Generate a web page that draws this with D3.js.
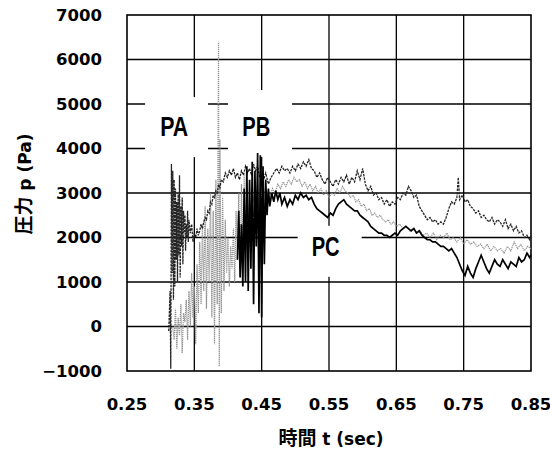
<!DOCTYPE html>
<html>
<head>
<meta charset="utf-8">
<script src="https://cdn.jsdelivr.net/npm/d3@7"></script>
<style>
  body { margin: 0; background: #fff; }
  .tick-label { font-family: "DejaVu Sans", sans-serif; font-weight: bold; font-size: 16.5px; fill: #000; }
  .tag { font-family: "Liberation Sans", sans-serif; font-weight: bold; font-size: 27px; fill: #000; }
</style>
</head>
<body>
<div class="diagram"></div>
<script>
var width = 404, height = 356, margin = {top: 15, right: 19, bottom: 82, left: 127};

// tick values
var xTicks = [0.25, 0.35, 0.45, 0.55, 0.65, 0.75, 0.85];
var yTicks = [-1000, 0, 1000, 2000, 3000, 4000, 5000, 6000, 7000];

// series names, where each name sits (t, p) and the blank box round it (t, p)
var seriesNames = ["PA", "PB", "PC"];
var namePos = [[0.320, 4500], [0.442, 4500], [0.545, 1800]];
var boxPos = [[0.3236, 4480], [0.4476, 4560], [0.551, 1690]];

// PA [t (sec), p (Pa)]
var paData = [
  [0.312,-100],[0.314,800],[0.315,-950],[0.316,3650],[0.317,1200],[0.318,3500],[0.319,600],[0.320,3300],
  [0.321,900],[0.322,3100],[0.323,1500],[0.324,2800],[0.325,1000],[0.326,3000],[0.327,1600],[0.328,3400],
  [0.329,1100],[0.330,2700],[0.331,1800],[0.332,2900],[0.333,1400],[0.334,2600],[0.335,2100],[0.336,2500],
  [0.337,1700],[0.338,2300],[0.339,2000],[0.340,2600],[0.341,1900],[0.342,2400],[0.344,2100],[0.346,2300],
  [0.348,1900],[0.350,2100],[0.352,2000],[0.354,2200],[0.356,2050],[0.358,2150],[0.360,2300],[0.362,2200],
  [0.364,2350],[0.366,2450],[0.368,2400],[0.370,2600],[0.372,2550],[0.374,2800],[0.376,2750],[0.378,2950],
  [0.380,2900],[0.382,3050],[0.384,3000],[0.386,3200],[0.388,3100],[0.390,3300],[0.393,3250],[0.396,3450],
  [0.399,3350],[0.402,3500],[0.405,3400],[0.408,3550],[0.411,3350],[0.414,3450],[0.417,3300],[0.420,3500],
  [0.423,3400],[0.426,3600],[0.429,3450],[0.432,3550],[0.435,3400],[0.438,3650],[0.441,3500],[0.444,3600],
  [0.447,3350],[0.450,3550],[0.453,3300],[0.456,3450],[0.460,3200],[0.464,3350],[0.468,3450],[0.472,3550],
  [0.476,3450],[0.480,3600],[0.484,3500],[0.488,3550],[0.492,3450],[0.496,3600],[0.500,3500],[0.504,3650],
  [0.508,3550],[0.512,3700],[0.516,3600],[0.520,3750],[0.524,3550],[0.528,3500],[0.532,3350],[0.536,3450],
  [0.540,3300],[0.544,3200],[0.548,3350],[0.552,3250],[0.556,3150],[0.560,3300],[0.564,3200],[0.568,3350],
  [0.572,3250],[0.576,3400],[0.580,3200],[0.584,3350],[0.588,3250],[0.592,3500],[0.596,3300],[0.600,3550],
  [0.604,3200],[0.608,3050],[0.612,3150],[0.616,2950],[0.620,3000],[0.624,2850],[0.628,2900],[0.632,2750],
  [0.636,2850],[0.640,2700],[0.644,2800],[0.648,2750],[0.652,2900],[0.656,2850],[0.660,3000],[0.664,2950],
  [0.668,3150],[0.672,3050],[0.676,2900],[0.680,2950],[0.684,2700],[0.688,2600],[0.692,2500],[0.696,2400],
  [0.700,2450],[0.704,2350],[0.708,2400],[0.712,2300],[0.716,2350],[0.720,2300],[0.724,2450],[0.728,2650],
  [0.732,2800],[0.736,2750],[0.740,2900],[0.742,3350],[0.744,2850],[0.748,2950],[0.752,2800],[0.756,2850],
  [0.760,2700],[0.764,2650],[0.768,2550],[0.772,2600],[0.776,2450],[0.780,2500],[0.784,2400],[0.788,2350],
  [0.792,2450],[0.796,2300],[0.800,2400],[0.804,2350],[0.808,2250],[0.812,2400],[0.816,2200],[0.820,2300],
  [0.824,2150],[0.828,2250],[0.832,2100],[0.836,2150],[0.840,2000],[0.844,2050],[0.848,1950],[0.850,2000]
];

// PB [t (sec), p (Pa)]
var pbData = [
  [0.318,0],[0.320,-300],[0.322,400],[0.324,-500],[0.326,200],[0.328,-200],[0.330,500],[0.332,-600],
  [0.334,300],[0.336,100],[0.338,600],[0.340,-300],[0.342,800],[0.344,0],[0.346,1200],[0.348,200],
  [0.350,900],[0.352,-400],[0.354,1400],[0.356,300],[0.358,1900],[0.360,500],[0.362,2300],[0.364,800],
  [0.366,2700],[0.368,400],[0.370,2200],[0.372,1000],[0.374,3000],[0.376,200],[0.378,2600],[0.380,-400],
  [0.382,3300],[0.384,500],[0.386,6400],[0.387,-900],[0.388,4200],[0.390,300],[0.392,2900],[0.394,800],
  [0.396,2400],[0.398,1200],[0.400,2000],[0.402,900],[0.404,1800],[0.406,1300],[0.408,2200],[0.410,1000],
  [0.412,2600],[0.414,1500],[0.416,3000],[0.418,1100],[0.420,3200],[0.422,1600],[0.424,3400],[0.426,1200],
  [0.428,3100],[0.430,2000],[0.432,3300],[0.434,2300],[0.436,3000],[0.438,2800],[0.440,3300],[0.442,2500],
  [0.444,3100],[0.446,2700],[0.448,3200],[0.450,2900],[0.453,3100],[0.456,2800],[0.459,3000],[0.462,2900],
  [0.466,3100],[0.470,3000],[0.474,3200],[0.478,3100],[0.482,3250],[0.486,3150],[0.490,3300],[0.494,3200],
  [0.498,3350],[0.502,3250],[0.506,3300],[0.510,3150],[0.514,3250],[0.518,3100],[0.522,3200],[0.526,3050],
  [0.530,3150],[0.534,3000],[0.538,3100],[0.542,2950],[0.546,3050],[0.550,2900],[0.554,3000],[0.558,2950],
  [0.562,3100],[0.566,3000],[0.570,3150],[0.574,3050],[0.578,3000],[0.582,2900],[0.586,2950],[0.590,2800],
  [0.594,2850],[0.598,2700],[0.602,2750],[0.606,2600],[0.610,2650],[0.614,2500],[0.618,2550],[0.622,2450],
  [0.626,2500],[0.630,2400],[0.634,2350],[0.638,2400],[0.642,2300],[0.646,2350],[0.650,2250],[0.655,2300],
  [0.660,2200],[0.665,2250],[0.670,2150],[0.675,2200],[0.680,2100],[0.685,2150],[0.690,2050],[0.695,2100],
  [0.700,2000],[0.705,2100],[0.710,1950],[0.715,2050],[0.720,2000],[0.725,2100],[0.730,1950],[0.735,2000],
  [0.740,1900],[0.745,2000],[0.750,1850],[0.755,1950],[0.760,1850],[0.765,1900],[0.770,1800],[0.775,1850],
  [0.780,1750],[0.785,1850],[0.790,1700],[0.795,1800],[0.800,1700],[0.805,1750],[0.810,1650],[0.815,1800],
  [0.820,1700],[0.825,1900],[0.830,1750],[0.835,1850],[0.840,1700],[0.845,1800],[0.850,1750]
];

// PC [t (sec), p (Pa)]
var pcData = [
  [0.414,1500],[0.416,2600],[0.418,1100],[0.420,2300],[0.422,900],[0.424,3100],[0.426,1000],[0.428,3600],
  [0.430,800],[0.432,3300],[0.434,1300],[0.436,3700],[0.438,500],[0.440,3500],[0.442,1800],[0.444,3900],
  [0.446,300],[0.448,3850],[0.450,200],[0.452,3600],[0.454,1400],[0.456,3300],[0.458,2500],[0.460,3100],
  [0.462,2700],[0.465,3000],[0.468,2800],[0.471,3050],[0.474,2850],[0.477,3000],[0.480,2750],[0.484,2900],
  [0.488,2700],[0.492,2850],[0.496,2750],[0.500,2950],[0.504,2850],[0.508,3000],[0.512,2900],[0.516,2950],
  [0.520,2850],[0.524,2900],[0.528,2750],[0.532,2650],[0.536,2600],[0.540,2550],[0.544,2500],[0.548,2450],
  [0.552,2550],[0.556,2500],[0.560,2650],[0.564,2750],[0.568,2800],[0.572,2850],[0.576,2750],[0.580,2700],
  [0.584,2650],[0.588,2600],[0.592,2600],[0.596,2500],[0.600,2450],[0.604,2400],[0.608,2350],[0.612,2250],
  [0.616,2200],[0.620,2150],[0.624,2100],[0.628,2100],[0.632,2050],[0.636,2050],[0.640,2000],[0.644,2050],
  [0.648,2100],[0.652,2050],[0.656,2150],[0.660,2200],[0.664,2250],[0.668,2200],[0.672,2150],[0.676,2200],
  [0.680,2100],[0.684,2150],[0.688,2050],[0.692,2000],[0.696,1950],[0.700,1950],[0.704,1900],[0.708,1900],
  [0.712,1850],[0.716,1800],[0.720,1800],[0.724,1750],[0.728,1700],[0.732,1750],[0.736,1650],[0.740,1550],
  [0.744,1400],[0.748,1250],[0.752,1150],[0.756,1350],[0.760,1200],[0.764,1100],[0.768,1300],[0.772,1450],
  [0.776,1600],[0.780,1450],[0.784,1300],[0.788,1200],[0.792,1350],[0.796,1500],[0.800,1400],[0.804,1350],
  [0.808,1500],[0.812,1400],[0.816,1300],[0.820,1450],[0.824,1400],[0.828,1350],[0.832,1550],[0.836,1450],
  [0.840,1500],[0.844,1650],[0.848,1550],[0.850,1600]
];

var svg = d3.select('.diagram')
  .append('svg')
  .attr('width', width + margin.left + margin.right)
  .attr('height', height + margin.top + margin.bottom)
  .append('g')
  .attr('transform', 'translate(' + margin.left + ',' + margin.top + ')');

var x = d3.scaleLinear().domain([0.25, 0.85]).range([0, width]),
    y = d3.scaleLinear().domain([-1000, 7000]).range([height, 0]);

// grid
svg.append('g').selectAll('line')
  .data(xTicks.slice(1, -1)).enter().append('line')
  .attr('x1', function(d) { return x(d); }).attr('x2', function(d) { return x(d); })
  .attr('y1', 0).attr('y2', height)
  .attr('stroke', '#000').attr('stroke-width', 1.3);

svg.append('g').selectAll('line')
  .data(yTicks.slice(1, -1)).enter().append('line')
  .attr('x1', 0).attr('x2', width)
  .attr('y1', function(d) { return y(d); }).attr('y2', function(d) { return y(d); })
  .attr('stroke', '#000').attr('stroke-width', 1.3);

// white boxes behind the series names
var boxW = [63, 64, 64], boxH = [60, 67, 51];
svg.append('g').selectAll('rect')
  .data(boxPos).enter().append('rect')
  .attr('x', function(d, i) { return x(d[0]) - boxW[i] / 2; })
  .attr('y', function(d, i) { return y(d[1]) - boxH[i] / 2; })
  .attr('width', function(d, i) { return boxW[i]; })
  .attr('height', function(d, i) { return boxH[i]; })
  .attr('fill', '#fff');

// frame
svg.append('rect')
  .attr('width', width).attr('height', height)
  .attr('fill', 'none').attr('stroke', '#000').attr('stroke-width', 1.6);

var line = d3.line()
  .x(function(d) { return x(d[0]); })
  .y(function(d) { return y(d[1]); });

svg.append('path').datum(pbData)
  .attr('d', line).attr('fill', 'none')
  .attr('stroke', '#909090').attr('stroke-width', 1.2).attr('stroke-dasharray', '1.2,0.8');

svg.append('path').datum(paData)
  .attr('d', line).attr('fill', 'none')
  .attr('stroke', '#262626').attr('stroke-width', 1.3).attr('stroke-dasharray', '2.5,1');

svg.append('path').datum(pcData)
  .attr('d', line).attr('fill', 'none')
  .attr('stroke', '#000').attr('stroke-width', 1.7);

// series names
svg.append('g').selectAll('text')
  .data(namePos).enter().append('text')
  .attr('class', 'tag')
  .attr('x', function(d) { return x(d[0]) - 14; })
  .attr('y', function(d) { return y(d[1]) + 10; })
  .attr('textLength', 28)
  .attr('lengthAdjust', 'spacingAndGlyphs')
  .text(function(d, i) { return seriesNames[i]; });

// tick labels
svg.append('g').selectAll('text')
  .data(yTicks).enter().append('text')
  .attr('class', 'tick-label')
  .attr('x', -25)
  .attr('y', function(d) { return y(d); })
  .attr('dy', '0.36em')
  .attr('text-anchor', 'end')
  .text(function(d) { return d < 0 ? '\u2212' + Math.abs(d) : d; });

svg.append('g').selectAll('text')
  .data(xTicks).enter().append('text')
  .attr('class', 'tick-label')
  .attr('x', function(d) { return x(d); })
  .attr('y', height + 39)
  .attr('text-anchor', 'middle')
  .text(function(d) { return d.toFixed(2); });

// axis titles
var xTitle = svg.append('text')
  .attr('x', width / 2 + 2)
  .attr('y', height + 74)
  .attr('text-anchor', 'middle')
  .attr('font-weight', 'bold');
xTitle.append('tspan').attr('font-family', '"Noto Sans CJK JP"').attr('font-size', 19).text('時間');
xTitle.append('tspan').attr('font-family', '"DejaVu Sans"').attr('font-size', 17).text(' t (sec)');

var yTitle = svg.append('text')
  .attr('transform', 'translate(' + (-96) + ',' + y(3200) + ') rotate(-90)')
  .attr('text-anchor', 'middle')
  .attr('font-weight', 'bold');
yTitle.append('tspan').attr('font-family', '"Noto Sans CJK JP"').attr('font-size', 19).text('圧力');
yTitle.append('tspan').attr('font-family', '"DejaVu Sans"').attr('font-size', 17).text(' p (Pa)');
</script>
</body>
</html>
